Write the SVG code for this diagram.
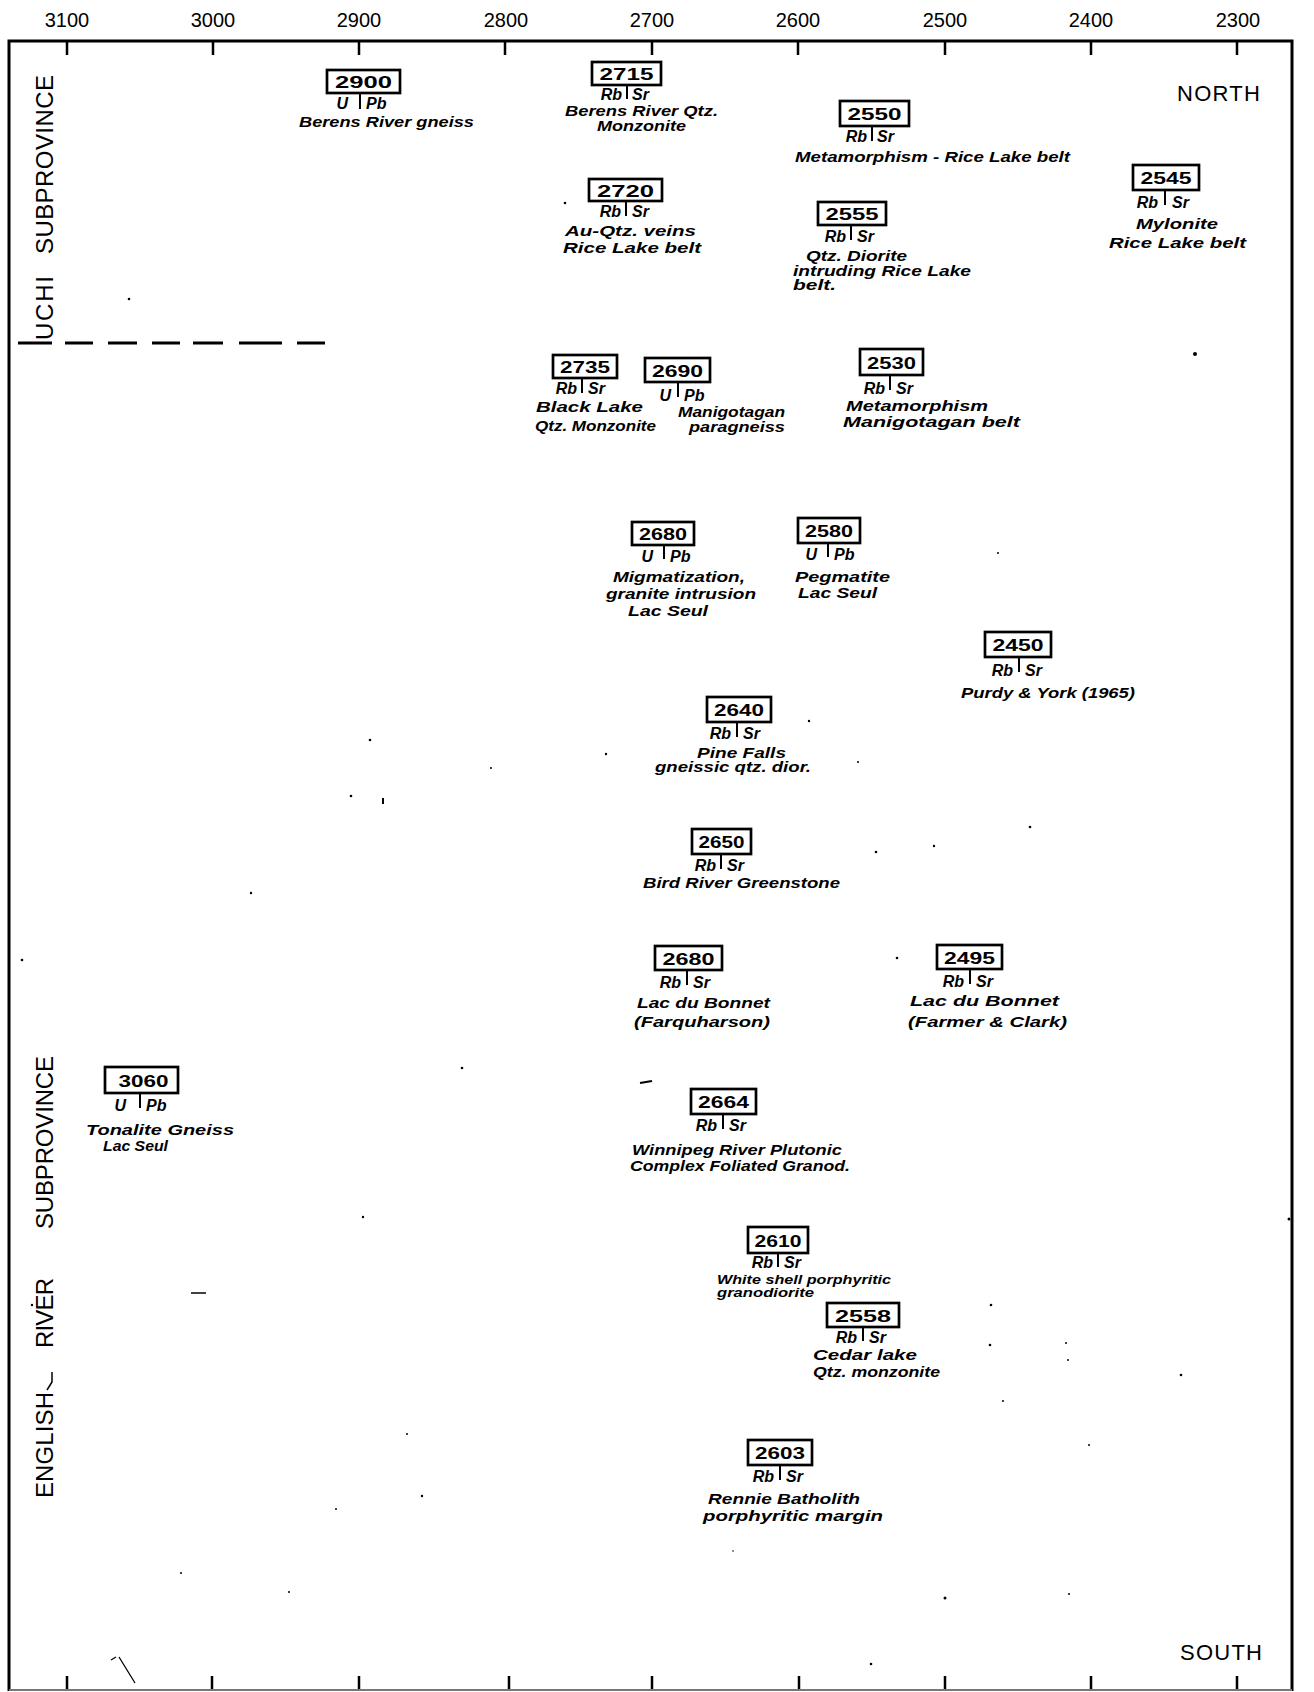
<svg xmlns="http://www.w3.org/2000/svg" width="1314" height="1692" viewBox="0 0 1314 1692">
<style>
.frame{fill:none;stroke:#000;stroke-width:3}
.tick{stroke:#000;stroke-width:2.5}
.dash{stroke:#000;stroke-width:3;fill:none}
.box{fill:#fff;stroke:#000;stroke-width:2.7}
.stem{stroke:#000;stroke-width:2}
.num{font-family:"Liberation Sans",Arial,sans-serif;font-size:17px;font-weight:bold;text-anchor:middle;fill:#000}
.iso{font-family:"Liberation Sans",Arial,sans-serif;font-size:16px;font-weight:bold;font-style:italic;fill:#000}
.l{text-anchor:end}
.desc{font-family:"Liberation Sans",Arial,sans-serif;font-size:15px;font-weight:bold;font-style:italic;fill:#000}
.sm{font-size:12px}
.axis{font-family:"Liberation Sans",Arial,sans-serif;font-size:20px;text-anchor:middle;fill:#000}
.side{font-family:"Liberation Sans",Arial,sans-serif;font-size:24px;fill:#000}
.dir{font-family:"Liberation Sans",Arial,sans-serif;font-size:22px;fill:#000}
.speck{fill:#000}
</style>
<rect width="1314" height="1692" fill="#fff"/>

<g id="axis">
<text class="axis" x="67" y="27">3100</text>
<text class="axis" x="213" y="27">3000</text>
<text class="axis" x="359" y="27">2900</text>
<text class="axis" x="506" y="27">2800</text>
<text class="axis" x="652" y="27">2700</text>
<text class="axis" x="798" y="27">2600</text>
<text class="axis" x="945" y="27">2500</text>
<text class="axis" x="1091" y="27">2400</text>
<text class="axis" x="1238" y="27">2300</text>
<path class="tick" d="M67 41V55M213 41V55M359 41V55M505 41V55M652 41V55M798 41V55M945 41V55M1091 41V55M1237 41V55"/>
<path class="tick" d="M67 1676V1690M212 1676V1690M359 1676V1690M509 1676V1690M652 1676V1690M799 1676V1690M945 1676V1690M1091 1676V1690M1237 1676V1690"/>
</g>

<g id="frame">
<path class="frame" d="M9 1691V41H1292V1691"/>
<line x1="9" y1="1690" x2="1292" y2="1690" stroke="#777" stroke-width="2"/>
<path class="dash" d="M18 343H52M65 343H93M108 343H137M152 343H180M193 343H223M239 343H282M297 343H325"/>
</g>

<g id="labels">
<text class="side" transform="translate(53,340) rotate(-90)" textLength="64">UCHI</text>
<text class="side" transform="translate(53,254) rotate(-90)" textLength="179">SUBPROVINCE</text>
<text class="side" transform="translate(53,1229) rotate(-90)" textLength="173">SUBPROVINCE</text>
<text class="side" transform="translate(53,1348) rotate(-90)" textLength="70">RIVER</text>
<text class="side" transform="translate(53,1498) rotate(-90)" textLength="106">ENGLISH</text>
<path d="M47 1390L52 1382V1372" stroke="#000" stroke-width="1.5" fill="none"/>
<text class="dir" x="1177" y="101" textLength="83">NORTH</text>
<text class="dir" x="1180" y="1660" textLength="82">SOUTH</text>
</g>

<g id="n2900">
<rect class="box" x="327" y="70" width="73" height="23"/>
<text class="num" x="363.5" y="88" textLength="57" lengthAdjust="spacingAndGlyphs">2900</text>
<line class="stem" x1="360" y1="93" x2="360" y2="109"/>
<text class="iso l" x="348" y="109">U</text>
<text class="iso" x="366" y="109">Pb</text>
<text class="desc" x="299" y="127" textLength="175" lengthAdjust="spacingAndGlyphs">Berens River gneiss</text>
</g>

<g id="n2715">
<rect class="box" x="592" y="62" width="69" height="23"/>
<text class="num" x="626.5" y="80" textLength="54" lengthAdjust="spacingAndGlyphs">2715</text>
<line class="stem" x1="627" y1="85" x2="627" y2="99"/>
<text class="iso l" x="622" y="100">Rb</text>
<text class="iso" x="632" y="100">Sr</text>
<text class="desc" x="565" y="116" textLength="153" lengthAdjust="spacingAndGlyphs">Berens River Qtz.</text>
<text class="desc" x="597" y="131" textLength="89" lengthAdjust="spacingAndGlyphs">Monzonite</text>
</g>

<g id="n2550">
<rect class="box" x="840" y="101" width="69" height="25"/>
<text class="num" x="874.5" y="120" textLength="54" lengthAdjust="spacingAndGlyphs">2550</text>
<line class="stem" x1="872" y1="126" x2="872" y2="141"/>
<text class="iso l" x="867" y="142">Rb</text>
<text class="iso" x="877" y="142">Sr</text>
<text class="desc" x="795" y="162" textLength="275" lengthAdjust="spacingAndGlyphs">Metamorphism - Rice Lake belt</text>
</g>

<g id="n2545">
<rect class="box" x="1133" y="165" width="66" height="25"/>
<text class="num" x="1166" y="184" textLength="51" lengthAdjust="spacingAndGlyphs">2545</text>
<line class="stem" x1="1165" y1="190" x2="1165" y2="205"/>
<text class="iso l" x="1158" y="208">Rb</text>
<text class="iso" x="1172" y="208">Sr</text>
<text class="desc" x="1136" y="229" textLength="82" lengthAdjust="spacingAndGlyphs">Mylonite</text>
<text class="desc" x="1109" y="248" textLength="137" lengthAdjust="spacingAndGlyphs">Rice Lake belt</text>
</g>

<g id="n2720">
<rect class="box" x="589" y="179" width="73" height="22"/>
<text class="num" x="625.5" y="196.5" textLength="57" lengthAdjust="spacingAndGlyphs">2720</text>
<line class="stem" x1="626" y1="201" x2="626" y2="216"/>
<text class="iso l" x="621" y="217">Rb</text>
<text class="iso" x="632" y="217">Sr</text>
<text class="desc" x="565" y="236" textLength="131" lengthAdjust="spacingAndGlyphs">Au-Qtz. veins</text>
<text class="desc" x="563" y="253" textLength="138" lengthAdjust="spacingAndGlyphs">Rice Lake belt</text>
</g>

<g id="n2555">
<rect class="box" x="818" y="202" width="68" height="23"/>
<text class="num" x="852" y="220" textLength="53" lengthAdjust="spacingAndGlyphs">2555</text>
<line class="stem" x1="851" y1="225" x2="851" y2="240"/>
<text class="iso l" x="846" y="242">Rb</text>
<text class="iso" x="857" y="242">Sr</text>
<text class="desc" x="806" y="261" textLength="101" lengthAdjust="spacingAndGlyphs">Qtz. Diorite</text>
<text class="desc" x="793" y="276" textLength="178" lengthAdjust="spacingAndGlyphs">intruding Rice Lake</text>
<text class="desc" x="793" y="290" textLength="43" lengthAdjust="spacingAndGlyphs">belt.</text>
</g>

<g id="n2735">
<rect class="box" x="553" y="355" width="64" height="23"/>
<text class="num" x="585" y="373" textLength="50" lengthAdjust="spacingAndGlyphs">2735</text>
<line class="stem" x1="582" y1="378" x2="582" y2="393"/>
<text class="iso l" x="577" y="394">Rb</text>
<text class="iso" x="588" y="394">Sr</text>
<text class="desc" x="536" y="412" textLength="107" lengthAdjust="spacingAndGlyphs">Black Lake</text>
<text class="desc" x="535" y="431" textLength="121" lengthAdjust="spacingAndGlyphs">Qtz. Monzonite</text>
</g>

<g id="n2690">
<rect class="box" x="645" y="358" width="65" height="24"/>
<text class="num" x="677.5" y="376.5" textLength="51" lengthAdjust="spacingAndGlyphs">2690</text>
<line class="stem" x1="678" y1="382" x2="678" y2="397"/>
<text class="iso l" x="671" y="401">U</text>
<text class="iso" x="684" y="401">Pb</text>
<text class="desc" x="678" y="417" textLength="107" lengthAdjust="spacingAndGlyphs">Manigotagan</text>
<text class="desc" x="689" y="432" textLength="96" lengthAdjust="spacingAndGlyphs">paragneiss</text>
</g>

<g id="n2530">
<rect class="box" x="860" y="349" width="63" height="26"/>
<text class="num" x="891.5" y="368.5" textLength="49" lengthAdjust="spacingAndGlyphs">2530</text>
<line class="stem" x1="890" y1="375" x2="890" y2="390"/>
<text class="iso l" x="885" y="394">Rb</text>
<text class="iso" x="896" y="394">Sr</text>
<text class="desc" x="846" y="411" textLength="142" lengthAdjust="spacingAndGlyphs">Metamorphism</text>
<text class="desc" x="843" y="427" textLength="177" lengthAdjust="spacingAndGlyphs">Manigotagan belt</text>
</g>

<g id="n2680a">
<rect class="box" x="632" y="522" width="62" height="23"/>
<text class="num" x="663" y="540" textLength="48" lengthAdjust="spacingAndGlyphs">2680</text>
<line class="stem" x1="664" y1="545" x2="664" y2="559"/>
<text class="iso l" x="653" y="562">U</text>
<text class="iso" x="670" y="562">Pb</text>
<text class="desc" x="613" y="582" textLength="132" lengthAdjust="spacingAndGlyphs">Migmatization,</text>
<text class="desc" x="606" y="599" textLength="150" lengthAdjust="spacingAndGlyphs">granite intrusion</text>
<text class="desc" x="628" y="616" textLength="80" lengthAdjust="spacingAndGlyphs">Lac Seul</text>
</g>

<g id="n2580">
<rect class="box" x="798" y="518" width="62" height="25"/>
<text class="num" x="829" y="537" textLength="48" lengthAdjust="spacingAndGlyphs">2580</text>
<line class="stem" x1="828" y1="543" x2="828" y2="557"/>
<text class="iso l" x="817" y="560">U</text>
<text class="iso" x="834" y="560">Pb</text>
<text class="desc" x="795" y="582" textLength="95" lengthAdjust="spacingAndGlyphs">Pegmatite</text>
<text class="desc" x="798" y="598" textLength="79" lengthAdjust="spacingAndGlyphs">Lac Seul</text>
</g>

<g id="n2450">
<rect class="box" x="985" y="632" width="66" height="25"/>
<text class="num" x="1018" y="651" textLength="51" lengthAdjust="spacingAndGlyphs">2450</text>
<line class="stem" x1="1019" y1="657" x2="1019" y2="672"/>
<text class="iso l" x="1013" y="676">Rb</text>
<text class="iso" x="1025" y="676">Sr</text>
<text class="desc" x="961" y="698" textLength="174" lengthAdjust="spacingAndGlyphs">Purdy &amp; York (1965)</text>
</g>

<g id="n2640">
<rect class="box" x="707" y="697" width="64" height="25"/>
<text class="num" x="739" y="716" textLength="50" lengthAdjust="spacingAndGlyphs">2640</text>
<line class="stem" x1="737" y1="722" x2="737" y2="737"/>
<text class="iso l" x="731" y="739">Rb</text>
<text class="iso" x="743" y="739">Sr</text>
<text class="desc" x="697" y="758" textLength="89" lengthAdjust="spacingAndGlyphs">Pine Falls</text>
<text class="desc" x="655" y="772" textLength="156" lengthAdjust="spacingAndGlyphs">gneissic qtz. dior.</text>
</g>

<g id="n2650">
<rect class="box" x="692" y="829" width="59" height="25"/>
<text class="num" x="721.5" y="848" textLength="46" lengthAdjust="spacingAndGlyphs">2650</text>
<line class="stem" x1="721" y1="854" x2="721" y2="869"/>
<text class="iso l" x="716" y="871">Rb</text>
<text class="iso" x="727" y="871">Sr</text>
<text class="desc" x="643" y="888" textLength="197" lengthAdjust="spacingAndGlyphs">Bird River Greenstone</text>
</g>

<g id="n2680b">
<rect class="box" x="655" y="946" width="67" height="24"/>
<text class="num" x="688.5" y="964.5" textLength="52" lengthAdjust="spacingAndGlyphs">2680</text>
<line class="stem" x1="687" y1="970" x2="687" y2="985"/>
<text class="iso l" x="681" y="988">Rb</text>
<text class="iso" x="693" y="988">Sr</text>
<text class="desc" x="637" y="1008" textLength="133" lengthAdjust="spacingAndGlyphs">Lac du Bonnet</text>
<text class="desc" x="634" y="1027" textLength="136" lengthAdjust="spacingAndGlyphs">(Farquharson)</text>
</g>

<g id="n2495">
<rect class="box" x="937" y="945" width="65" height="24"/>
<text class="num" x="969.5" y="963.5" textLength="51" lengthAdjust="spacingAndGlyphs">2495</text>
<line class="stem" x1="970" y1="969" x2="970" y2="984"/>
<text class="iso l" x="964" y="987">Rb</text>
<text class="iso" x="976" y="987">Sr</text>
<text class="desc" x="910" y="1006" textLength="149" lengthAdjust="spacingAndGlyphs">Lac du Bonnet</text>
<text class="desc" x="908" y="1027" textLength="159" lengthAdjust="spacingAndGlyphs">(Farmer &amp; Clark)</text>
</g>

<g id="n3060">
<rect class="box" x="105" y="1067" width="73" height="26"/>
<text class="num" x="143.5" y="1086.5" textLength="50" lengthAdjust="spacingAndGlyphs">3060</text>
<line class="stem" x1="140" y1="1093" x2="140" y2="1108"/>
<text class="iso l" x="126" y="1111">U</text>
<text class="iso" x="146" y="1111">Pb</text>
<text class="desc" x="86" y="1135" textLength="148" lengthAdjust="spacingAndGlyphs">Tonalite Gneiss</text>
<text class="desc" x="103" y="1151" textLength="65" lengthAdjust="spacingAndGlyphs">Lac Seul</text>
</g>

<g id="n2664">
<rect class="box" x="691" y="1089" width="65" height="25"/>
<text class="num" x="723.5" y="1108" textLength="51" lengthAdjust="spacingAndGlyphs">2664</text>
<line class="stem" x1="723" y1="1114" x2="723" y2="1129"/>
<text class="iso l" x="717" y="1131">Rb</text>
<text class="iso" x="729" y="1131">Sr</text>
<text class="desc" x="632" y="1155" textLength="210" lengthAdjust="spacingAndGlyphs">Winnipeg River Plutonic</text>
<text class="desc" x="630" y="1171" textLength="220" lengthAdjust="spacingAndGlyphs">Complex Foliated Granod.</text>
</g>

<g id="n2610">
<rect class="box" x="748" y="1227" width="60" height="26"/>
<text class="num" x="778" y="1246.5" textLength="47" lengthAdjust="spacingAndGlyphs">2610</text>
<line class="stem" x1="778" y1="1253" x2="778" y2="1267"/>
<text class="iso l" x="773" y="1268">Rb</text>
<text class="iso" x="784" y="1268">Sr</text>
<text class="desc sm" x="717" y="1284" textLength="174" lengthAdjust="spacingAndGlyphs">White shell porphyritic</text>
<text class="desc sm" x="717" y="1297" textLength="97" lengthAdjust="spacingAndGlyphs">granodiorite</text>
</g>

<g id="n2558">
<rect class="box" x="827" y="1303" width="72" height="24"/>
<text class="num" x="863" y="1321.5" textLength="56" lengthAdjust="spacingAndGlyphs">2558</text>
<line class="stem" x1="863" y1="1327" x2="863" y2="1341"/>
<text class="iso l" x="857" y="1343">Rb</text>
<text class="iso" x="869" y="1343">Sr</text>
<text class="desc" x="813" y="1360" textLength="104" lengthAdjust="spacingAndGlyphs">Cedar lake</text>
<text class="desc" x="813" y="1377" textLength="127" lengthAdjust="spacingAndGlyphs">Qtz. monzonite</text>
</g>

<g id="n2603">
<rect class="box" x="748" y="1440" width="64" height="25"/>
<text class="num" x="780" y="1459" textLength="50" lengthAdjust="spacingAndGlyphs">2603</text>
<line class="stem" x1="780" y1="1465" x2="780" y2="1480"/>
<text class="iso l" x="774" y="1482">Rb</text>
<text class="iso" x="786" y="1482">Sr</text>
<text class="desc" x="708" y="1504" textLength="152" lengthAdjust="spacingAndGlyphs">Rennie Batholith</text>
<text class="desc" x="703" y="1521" textLength="180" lengthAdjust="spacingAndGlyphs">porphyritic margin</text>
</g>

<g id="connectors"></g>

<g id="specks" class="speck">
<circle cx="129" cy="299" r="1.3"/>
<circle cx="565" cy="203" r="1.3"/>
<circle cx="1195" cy="354" r="2"/>
<circle cx="998" cy="553" r="1"/>
<circle cx="809" cy="721" r="1.2"/>
<circle cx="370" cy="740" r="1.3"/>
<circle cx="491" cy="768" r="1"/>
<circle cx="351" cy="796" r="1.3"/>
<rect x="382" y="798" width="2" height="6"/>
<circle cx="606" cy="754" r="1.2"/>
<circle cx="858" cy="762" r="1"/>
<circle cx="934" cy="846" r="1.2"/>
<circle cx="876" cy="852" r="1.3"/>
<circle cx="1030" cy="827" r="1.3"/>
<circle cx="251" cy="893" r="1.2"/>
<circle cx="22" cy="960" r="1.3"/>
<circle cx="897" cy="958" r="1.3"/>
<circle cx="462" cy="1068" r="1.3"/>
<path d="M640 1083L652 1081" stroke="#000" stroke-width="2"/>
<circle cx="363" cy="1217" r="1.2"/>
<circle cx="1289" cy="1219" r="1.5"/>
<path d="M191 1293H206" stroke="#000" stroke-width="1.5"/>
<circle cx="32" cy="1305" r="1.2"/>
<circle cx="991" cy="1305" r="1.3"/>
<circle cx="990" cy="1345" r="1.3"/>
<circle cx="1066" cy="1343" r="1"/>
<circle cx="1068" cy="1360" r="1"/>
<circle cx="1181" cy="1375" r="1.3"/>
<circle cx="1003" cy="1401" r="1"/>
<circle cx="407" cy="1434" r="1"/>
<circle cx="422" cy="1496" r="1.2"/>
<circle cx="336" cy="1509" r="1"/>
<circle cx="1089" cy="1445" r="1"/>
<circle cx="289" cy="1592" r="1"/>
<circle cx="181" cy="1573" r="1"/>
<circle cx="871" cy="1664" r="1.3"/>
<circle cx="945" cy="1598" r="1.5"/>
<circle cx="1069" cy="1594" r="1"/>
<circle cx="733" cy="1551" r="0.8"/>
<path d="M111 1660L116 1657M119 1657L135 1683" stroke="#000" stroke-width="1.3" fill="none"/>
</g>
</svg>
